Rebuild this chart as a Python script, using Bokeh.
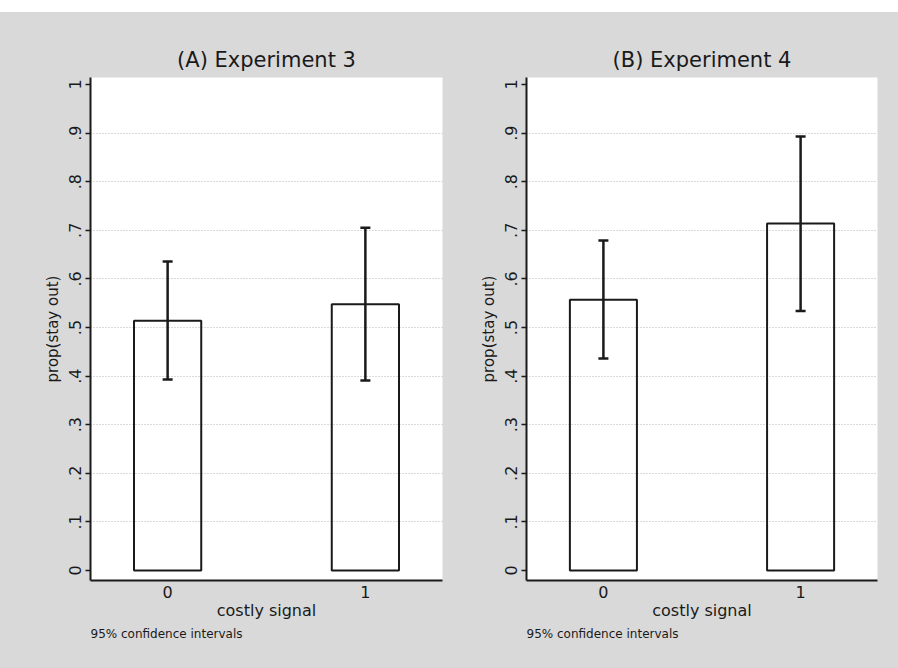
from bokeh.plotting import figure
from bokeh.models import (ColumnDataSource, FixedTicker, Range1d, Whisker, TeeHead,
                          Title, Spacer)
from bokeh.layouts import row, column
from bokeh.embed import file_html
from bokeh.resources import INLINE

# ---- data ----
categories = [0, 1]
titles = ["(A) Experiment 3", "(B) Experiment 4"]
exp3_prop = [0.514, 0.548]
exp3_lower = [0.393, 0.391]
exp3_upper = [0.636, 0.705]
exp4_prop = [0.557, 0.714]
exp4_lower = [0.436, 0.534]
exp4_upper = [0.679, 0.893]
y_ticks = [0, 0.1, 0.2, 0.3, 0.4, 0.5, 0.6, 0.7, 0.8, 0.9, 1.0]
y_tick_labels = ["0", ".1", ".2", ".3", ".4", ".5", ".6", ".7", ".8", ".9", "1"]
x_label = "costly signal"
y_label = "prop(stay out)"
note = "95% confidence intervals"

BG = "#d9d9d9"
INK = "#1a1a1a"
FONT = "DejaVu Sans"


def make_panel(title, props, lows, highs, left, right, width):
    p = figure(width=width, height=656, output_backend="svg", toolbar_location=None,
               x_range=Range1d(-0.39, 1.39), y_range=Range1d(-0.0206, 1.0144),
               min_border_left=left, min_border_right=right,
               min_border_top=65, min_border_bottom=88)
    p.border_fill_color = BG
    p.background_fill_color = "white"
    p.outline_line_color = None

    p.title.text = title
    p.title.align = "center"
    p.title.text_font = FONT
    p.title.text_font_size = "21px"
    p.title.text_font_style = "normal"
    p.title.text_color = INK
    p.title.standoff = 12

    src = ColumnDataSource(dict(x=categories, top=props, lower=lows, upper=highs))
    p.vbar(x="x", top="top", bottom=0, width=0.34, source=src,
           fill_color=None, line_color=INK, line_width=2)
    w = Whisker(source=src, base="x", lower="lower", upper="upper",
                line_color=INK, line_width=2.5,
                upper_head=TeeHead(size=10, line_color=INK, line_width=2.5),
                lower_head=TeeHead(size=10, line_color=INK, line_width=2.5))
    p.add_layout(w)

    # x axis
    xa = p.xaxis[0]
    xa.ticker = FixedTicker(ticks=categories)
    xa.major_tick_out = 0
    xa.major_tick_in = 0
    xa.minor_tick_out = 0
    xa.minor_tick_in = 0
    xa.axis_line_color = INK
    xa.axis_line_width = 2
    xa.major_label_text_font = FONT
    xa.major_label_text_font_size = "16px"
    xa.major_label_text_color = INK
    xa.major_label_standoff = 5
    xa.axis_label = x_label
    xa.axis_label_text_font = FONT
    xa.axis_label_text_font_size = "16px"
    xa.axis_label_text_font_style = "normal"
    xa.axis_label_text_color = INK
    xa.axis_label_standoff = 0

    # y axis
    ya = p.yaxis[0]
    ya.ticker = FixedTicker(ticks=y_ticks)
    ya.major_label_overrides = {t: l for t, l in zip(y_ticks, y_tick_labels)}
    ya.major_label_orientation = "vertical"
    ya.major_tick_out = 5
    ya.major_tick_in = 0
    ya.minor_tick_out = 0
    ya.minor_tick_in = 0
    ya.major_tick_line_color = INK
    ya.major_tick_line_width = 1.5
    ya.axis_line_color = INK
    ya.axis_line_width = 2
    ya.major_label_text_font = FONT
    ya.major_label_text_font_size = "16px"
    ya.major_label_text_color = INK
    ya.major_label_standoff = 4
    ya.axis_label = y_label
    ya.axis_label_text_font = FONT
    ya.axis_label_text_font_size = "15px"
    ya.axis_label_text_font_style = "normal"
    ya.axis_label_text_color = INK
    ya.axis_label_standoff = 5

    p.xgrid.grid_line_color = None
    p.ygrid.ticker = FixedTicker(ticks=y_ticks[1:-1])
    p.ygrid.grid_line_color = "#b4b4b4"
    p.ygrid.grid_line_width = 1
    p.ygrid.grid_line_dash = "1 2"

    t = Title(text=note, align="left", text_font=FONT, text_font_size="12px",
              text_font_style="normal", text_color=INK, standoff=4)
    p.add_layout(t, "below")
    return p


p1 = make_panel(titles[0], exp3_prop, exp3_lower, exp3_upper, 90, 7, 449)
p2 = make_panel(titles[1], exp4_prop, exp4_lower, exp4_upper, 77, 21, 449)

layout = column(Spacer(width=898, height=12),
                row(p1, p2, styles={"background-color": BG}))
open("out.html", "w").write(file_html(layout, INLINE))
